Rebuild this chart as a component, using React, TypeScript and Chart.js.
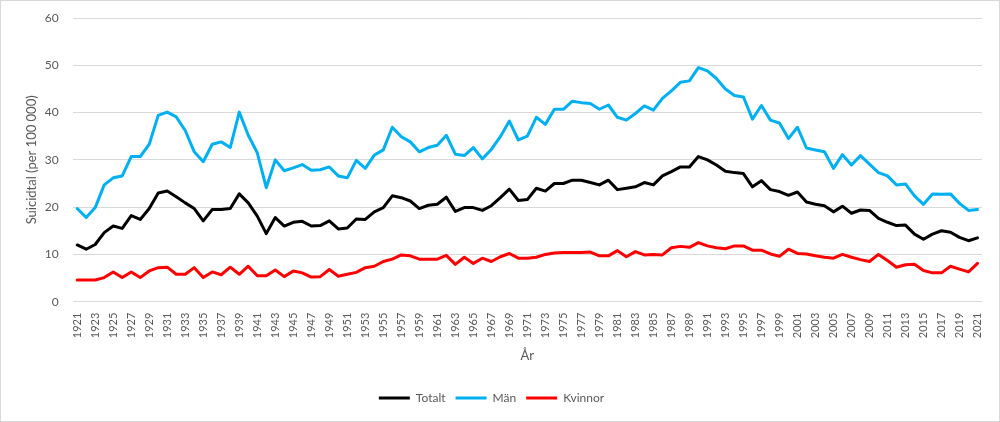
import React, { useEffect, useRef } from "react";
import { Chart, registerables } from "chart.js";

Chart.register(...registerables);

const years: string[] = [];
for (let y = 1921; y <= 2021; y++) years.push(String(y));

const totalt = [
  12.0, 11.1, 12.1, 14.6, 16.0, 15.5, 18.2, 17.4, 19.7, 23.0,
  23.4, 22.2, 20.9, 19.7, 17.1, 19.5, 19.5, 19.7, 22.8, 20.9,
  18.1, 14.4, 17.8, 16.0, 16.8, 17.0, 16.0, 16.1, 17.1, 15.4,
  15.6, 17.5, 17.4, 19.0, 19.9, 22.4, 22.0, 21.3, 19.7, 20.4,
  20.6, 22.1, 19.1, 19.9, 19.9, 19.3, 20.3, 22.0, 23.8, 21.4,
  21.6, 24.0, 23.4, 25.0, 25.0, 25.7, 25.7, 25.2, 24.7, 25.7,
  23.7, 24.0, 24.3, 25.2, 24.7, 26.6, 27.5, 28.5, 28.5, 30.7,
  30.0, 28.9, 27.6, 27.3, 27.1, 24.3, 25.6, 23.7, 23.3, 22.5,
  23.2, 21.1, 20.6, 20.3, 19.0, 20.2, 18.7, 19.4, 19.3, 17.6,
  16.8, 16.1, 16.2, 14.3, 13.2, 14.3, 15.0, 14.7, 13.6, 12.9,
  13.5,
];

const man = [
  19.7, 17.8, 19.9, 24.7, 26.2, 26.6, 30.7, 30.7, 33.3, 39.4,
  40.1, 39.1, 36.2, 31.7, 29.6, 33.3, 33.8, 32.6, 40.1, 35.2,
  31.5, 24.1, 30.0, 27.7, 28.3, 29.0, 27.8, 27.9, 28.5, 26.6,
  26.2, 29.9, 28.2, 31.0, 32.1, 36.9, 34.9, 33.8, 31.7, 32.6,
  33.1, 35.2, 31.2, 30.9, 32.6, 30.2, 32.2, 34.9, 38.2, 34.2,
  35.0, 39.0, 37.5, 40.7, 40.7, 42.4, 42.1, 41.9, 40.7, 41.6,
  39.0, 38.4, 39.8, 41.4, 40.5, 43.0, 44.6, 46.4, 46.7, 49.5,
  48.8, 47.2, 45.0, 43.6, 43.3, 38.6, 41.5, 38.4, 37.8, 34.5,
  36.9, 32.5, 32.1, 31.7, 28.2, 31.1, 28.9, 30.9, 29.1, 27.3,
  26.6, 24.7, 24.9, 22.4, 20.6, 22.8, 22.7, 22.8, 20.8, 19.3,
  19.5,
];

const kvinnor = [
  4.6, 4.6, 4.6, 5.1, 6.3, 5.1, 6.3, 5.1, 6.5, 7.2,
  7.3, 5.8, 5.8, 7.2, 5.1, 6.3, 5.7, 7.3, 5.8, 7.5,
  5.5, 5.5, 6.7, 5.3, 6.5, 6.1, 5.2, 5.3, 6.8, 5.4,
  5.8, 6.2, 7.2, 7.5, 8.5, 9.0, 9.9, 9.7, 9.0, 9.0,
  9.0, 9.8, 7.9, 9.4, 8.1, 9.2, 8.5, 9.5, 10.2, 9.2,
  9.2, 9.4, 10.0, 10.3, 10.4, 10.4, 10.4, 10.5, 9.7, 9.7,
  10.8, 9.5, 10.6, 9.9, 10.0, 9.9, 11.4, 11.7, 11.5, 12.5,
  11.8, 11.4, 11.2, 11.8, 11.8, 10.9, 10.9, 10.1, 9.6, 11.1,
  10.2, 10.1, 9.7, 9.4, 9.2, 10.0, 9.4, 8.9, 8.5, 10.0,
  8.7, 7.3, 7.8, 7.9, 6.6, 6.1, 6.1, 7.5, 6.9, 6.3,
  8.1,
];

const seriesNames = ["Totalt", "Män", "Kvinnor"];
const seriesColors = ["#000000", "#00B0F0", "#FF0000"];
const yTicks = [0, 10, 20, 30, 40, 50, 60];

const FONT = "Lato, 'Open Sans', sans-serif";
const TEXT = "#595959";

export default function App() {
  const ref = useRef<HTMLCanvasElement | null>(null);

  useEffect(() => {
    document.body.style.margin = "0";
    const canvas = ref.current;
    if (!canvas) return;
    const values = [totalt, man, kvinnor];
    const chart = new Chart(canvas, {
      type: "line",
      data: {
        labels: years,
        datasets: seriesNames.map((name, i) => ({
          label: name,
          data: values[i],
          borderColor: seriesColors[i],
          backgroundColor: seriesColors[i],
          borderWidth: 3,
          pointRadius: 0,
          tension: 0,
          borderJoinStyle: "round" as const,
          borderCapStyle: "round" as const,
        })),
      },
      options: {
        responsive: false,
        animation: false,
        layout: { padding: { top: 17, right: 17, left: 0, bottom: 7 } },
        plugins: {
          tooltip: { enabled: false },
          legend: {
            position: "bottom",
            labels: {
              boxWidth: 31,
              boxHeight: 3,
              padding: 10,
              color: TEXT,
              font: { family: FONT, size: 12 },
              generateLabels: (c: any) =>
                Chart.defaults.plugins.legend.labels
                  .generateLabels(c)
                  .map((l: any) => ({ ...l, fillStyle: l.strokeStyle, lineWidth: 0 })),
            },
          },
        },
        scales: {
          x: {
            type: "category",
            offset: true,
            grid: { display: false, drawTicks: false },
            border: { display: false },
            ticks: {
              autoSkip: false,
              minRotation: 90,
              maxRotation: 90,
              padding: 11,
              color: TEXT,
              font: { family: FONT, size: 11 },
              callback: function (this: any, value: any, index: number) {
                return index % 2 === 0 ? this.getLabelForValue(value) : "";
              },
            },
            title: {
              display: true,
              text: "År",
              color: TEXT,
              font: { family: FONT, size: 13 },
              padding: { top: 4, bottom: 18 },
            },
            afterFit: (scale: any) => {
              scale.height = 80.3;
              scale.paddingLeft = 0;
              scale.paddingRight = 0;
            },
          },
          y: {
            min: 0,
            max: 60,
            afterBuildTicks: (scale: any) => {
              scale.ticks = yTicks.map((v) => ({ value: v }));
            },
            grid: { color: "#D9D9D9", lineWidth: 1, drawTicks: false },
            border: { display: false },
            ticks: {
              padding: 14,
              color: TEXT,
              font: { family: FONT, size: 12 },
            },
            title: {
              display: true,
              text: "Suicidtal (per 100 000)",
              color: TEXT,
              font: { family: FONT, size: 13 },
              padding: { top: 23, bottom: 4 },
            },
            afterFit: (scale: any) => {
              scale.width = 71.7;
              scale.paddingTop = 0;
              scale.paddingBottom = 0;
            },
          },
        },
      },
    });
    return () => chart.destroy();
  }, []);

  return (
    <div
      style={{
        width: 1000,
        height: 422,
        boxSizing: "border-box",
        border: "1px solid #D9D9D9",
        background: "#FFFFFF",
      }}
    >
      <canvas ref={ref} width={998} height={420} style={{ display: "block" }} />
    </div>
  );
}
